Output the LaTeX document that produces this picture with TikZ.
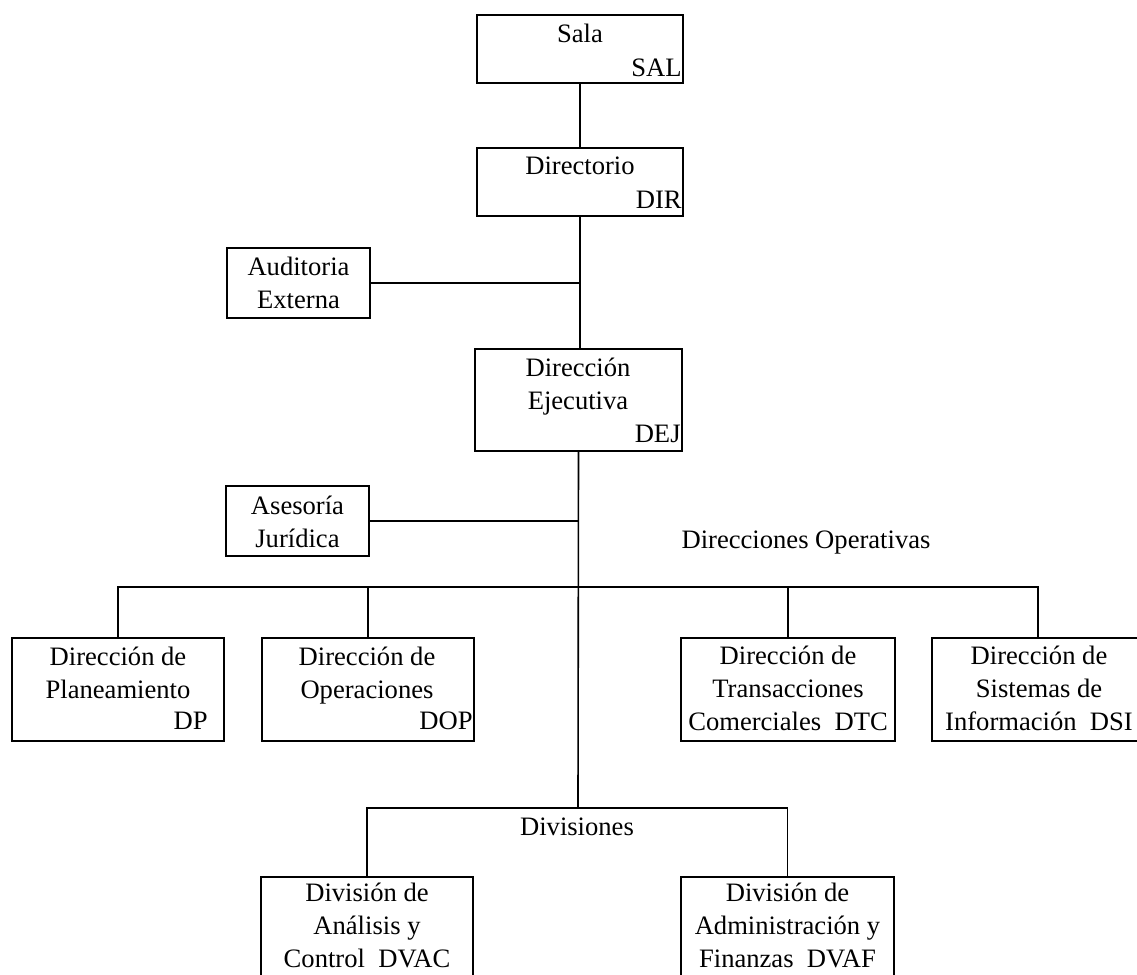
\documentclass[tikz,border=0pt]{standalone}
\usepackage{fontspec}
\setmainfont{Liberation Serif}
\begin{document}
\begin{tikzpicture}[x=0.5pt,y=-0.5pt,
  box/.style={draw, line width=0.8pt, inner sep=0pt},
  lbl/.style={inner sep=0pt, font=\fontsize{13.3}{16.5}\selectfont, align=center},
  code/.style={lbl, anchor=east},
  link/.style={line width=0.8pt}]
\clip (0,0) rectangle (1137,975);
% boxes
\node[box, minimum width=103pt, minimum height=34pt] (sal) at (580,49) {};
\node[box, minimum width=103pt, minimum height=34pt] (dir) at (580,182) {};
\node[box, minimum width=71.5pt, minimum height=35pt] (aud) at (298.5,283) {};
\node[box, minimum width=103.5pt, minimum height=51pt] (dej) at (578.5,400) {};
\node[box, minimum width=71.5pt, minimum height=35pt] (ase) at (297.5,521) {};
\node[box, minimum width=106pt, minimum height=51.5pt] (dp) at (118,689.5) {};
\node[box, minimum width=106pt, minimum height=51.5pt] (dop) at (368,689.5) {};
\node[box, minimum width=107pt, minimum height=51.5pt] (dtc) at (788,689.5) {};
\node[box, minimum width=106pt, minimum height=51.5pt] (dsi) at (1038,689.5) {};
\node[box, minimum width=106pt, minimum height=54pt] (dvac) at (367,931) {};
\node[box, minimum width=106.5pt, minimum height=54pt] (dvaf) at (787.5,931) {};
% texts
\node[lbl] (salt) at (580,36) {\strut Sala};
\node[code] (salc) at (682,70) {\strut SAL};
\node[lbl] (dirt) at (580,168) {\strut Directorio};
\node[code] (dirc) at (682,202) {\strut DIR};
\node[lbl] (audt) at (298.5,285.5) {\strut Auditoria\\Externa\strut};
\node[lbl] (dejt) at (578,386.5) {\strut Dirección\\Ejecutiva\strut};
\node[code] (dejc) at (681,436) {\strut DEJ};
\node[lbl] (aset) at (297.5,524) {\strut Asesoría\\Jurídica\strut};
\node[lbl] (dpt) at (118,675) {\strut Dirección de\\Planeamiento\strut};
\node[code] (dpc) at (208,723) {\strut DP};
\node[lbl] (dopt) at (367,675) {\strut Dirección de\\Operaciones\strut};
\node[code] (dopc) at (473,723) {\strut DOP};
\node[lbl] (dtct) at (788,690.5) {\strut Dirección de\\Transacciones\\Comerciales\ \ DTC\strut};
\node[lbl] (dsit) at (1039,690.5) {\strut Dirección de\\Sistemas de\\Información\ \ DSI\strut};
\node[lbl] (dvact) at (367,928) {\strut División de\\Análisis y\\Control\ \ DVAC\strut};
\node[lbl] (dvaft) at (787.5,928) {\strut División de\\Administración y\\Finanzas\ \ DVAF\strut};
\node[lbl] (opl) at (806,542) {\strut Direcciones Operativas};
\node[lbl] (divl) at (577,829) {\strut Divisiones};
% connectors
\coordinate (opbar) at (578,587);
\coordinate (divbar) at (578,808);
\draw[link] (sal.south) -- (dir.north);
\draw[link] (dir.south) -- (dir.south |- dej.north);
\draw[link] (aud.east) -- (aud.east -| dej.north);
\draw[link] (dej.south) -- (divbar);
\draw[link] (ase.east) -- (ase.east -| dej.south);
\draw[link] (dp.north) |- (opbar) -| (dsi.north);
\draw[link] (dop.north) -- (dop.north |- opbar);
\draw[link] (dtc.north) -- (dtc.north |- opbar);
\draw[link] (dvac.north) |- (divbar) -| (dvaf.north);
\end{tikzpicture}
\end{document}
